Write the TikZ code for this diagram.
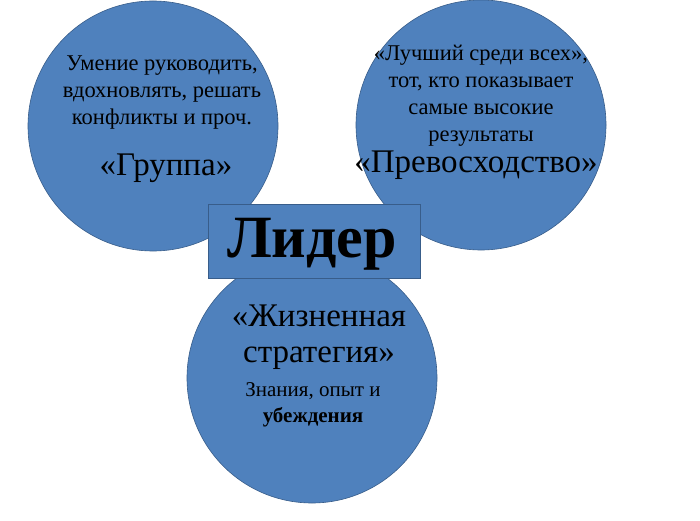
\documentclass[tikz,border=0pt]{standalone}
\usepackage{fontspec}
\setmainfont{Liberation Serif}
\usetikzlibrary{positioning}
\definecolor{mFill}{HTML}{4F81BD}
\definecolor{mEdge}{HTML}{385D8A}

\begin{document}
\begin{tikzpicture}[x=1pt,y=1pt,
    bubble/.style={circle,fill=mFill,draw=mEdge,line width=0.6pt,minimum size=250pt,inner sep=0pt},
    small/.style={font=\fontsize{22.5}{27}\selectfont,align=center,anchor=base,inner sep=0pt},
    big/.style={font=\fontsize{33}{36}\selectfont,align=center,anchor=base,inner sep=0pt}]
        \useasboundingbox (0,0) rectangle (700,520);
        % three circles
        \node[bubble] (grp) at (153,394) {};
        \node[bubble] (exc) at (481,395) {};
        \node[bubble] (str) at (312,142) {};
        % centre box
        \node[fill=mFill,draw=mEdge,line width=0.6pt,minimum width=212pt,minimum height=74pt,inner sep=0pt] (box) at (314,279) {};
        \node[anchor=base,inner sep=0pt,font=\fontsize{60}{66}\selectfont\bfseries] (lead) at (312,263) {Лидер};
        % texts (base = last line)
        \node[small] (grpT) at (162,395) {Умение руководить,\\ вдохновлять, решать\\ конфликты и проч.};
        \node[big] (grpN) at (166,344) {«Группа»};
        \node[small] (excT) at (481,378) {«Лучший среди всех»,\\ тот, кто показывает\\ самые высокие\\ результаты};
        \node[big] (excN) at (476,347) {«Превосходство»};
        \node[big] (strN) at (319,158) {«Жизненная\\ стратегия»};
        \node[small,font=\fontsize{21}{26}\selectfont] (strT) at (313,98) {Знания, опыт и\\ \textbf{убеждения}};
\end{tikzpicture}
\end{document}
